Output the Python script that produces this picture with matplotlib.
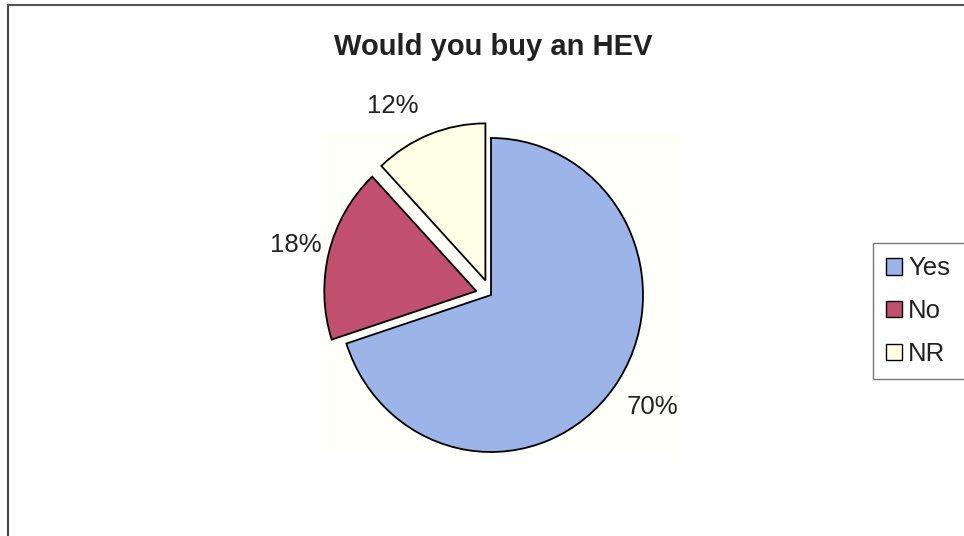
import numpy as np
import matplotlib.pyplot as plt
from matplotlib.lines import Line2D
from matplotlib.patches import Patch, Rectangle

plt.rcParams['font.family'] = ['Liberation Sans', 'DejaVu Sans']

categories = ["Yes", "No", "NR"]
shares = [70, 18, 12]
colors = ["#9cb4e8", "#c04f70", "#ffffe6"]
explode = [0, 0.1, 0.1]

# label placement: radius (pie units) and angular nudge (deg) per slice
label_radius = [1.28, 1.32, 1.365]
label_nudge = [2.0, 0.5, 6.8]

W, H = 964, 536
fig = plt.figure(figsize=(W / 100, H / 100), dpi=100)

# faint plot-area fill behind the pie
fig.add_artist(Rectangle((322 / W, 1 - 455 / H), (680 - 322) / W, (455 - 132) / H,
                         transform=fig.transFigure, facecolor='#fffffa',
                         edgecolor='none', zorder=0))

# pie centre ~(491, 295) px; slightly wider vertical scale than horizontal
cx, cy = 491, H - 295
sx, sy = 152, 157
lim = 1.5
ax = fig.add_axes([(cx - lim * sx) / W, (cy - lim * sy) / H,
                   2 * lim * sx / W, 2 * lim * sy / H])

wedges, texts, autotexts = ax.pie(
    shares, colors=colors, explode=explode, startangle=90, counterclock=False,
    autopct='%.0f%%',
    wedgeprops=dict(edgecolor='black', linewidth=1.3),
    textprops=dict(fontsize=18.5, color='#222222'))
ax.set_xlim(-lim, lim)
ax.set_ylim(-lim, lim)
ax.set_aspect('auto')

for w, t, rad, nudge in zip(wedges, autotexts, label_radius, label_nudge):
    mid = np.deg2rad((w.theta1 + w.theta2) / 2 + nudge)
    t.set_position((rad * np.cos(mid), rad * np.sin(mid)))
    t.set_clip_on(False)

fig.text(493 / W, 1 - 47 / H, "Would you buy an HEV", ha='center', va='center',
         fontsize=21, fontweight='bold', color='#222222')

handles = [Patch(facecolor=c, edgecolor='black', linewidth=1.0) for c in colors]
leg = fig.legend(handles, categories, loc='upper left', mode='expand',
                 bbox_to_anchor=(873 / W, 1 - 380 / H, 100 / W, 137 / H),
                 fontsize=18.5, frameon=True, fancybox=False, edgecolor='#555555',
                 handlelength=0.62, handleheight=0.62, handletextpad=0.23,
                 labelspacing=0.73, borderpad=0.52, borderaxespad=0)
leg.get_frame().set_linewidth(1.0)
for t in leg.get_texts():
    t.set_color('#222222')

# chart border (left and top edges)
fig.add_artist(Line2D([8 / W, 8 / W], [0, 1 - 5 / H], color='#444444', lw=1.5))
fig.add_artist(Line2D([8 / W, 1], [1 - 5 / H, 1 - 5 / H], color='#555555', lw=1.5))

fig.savefig("out.png", dpi=100)
